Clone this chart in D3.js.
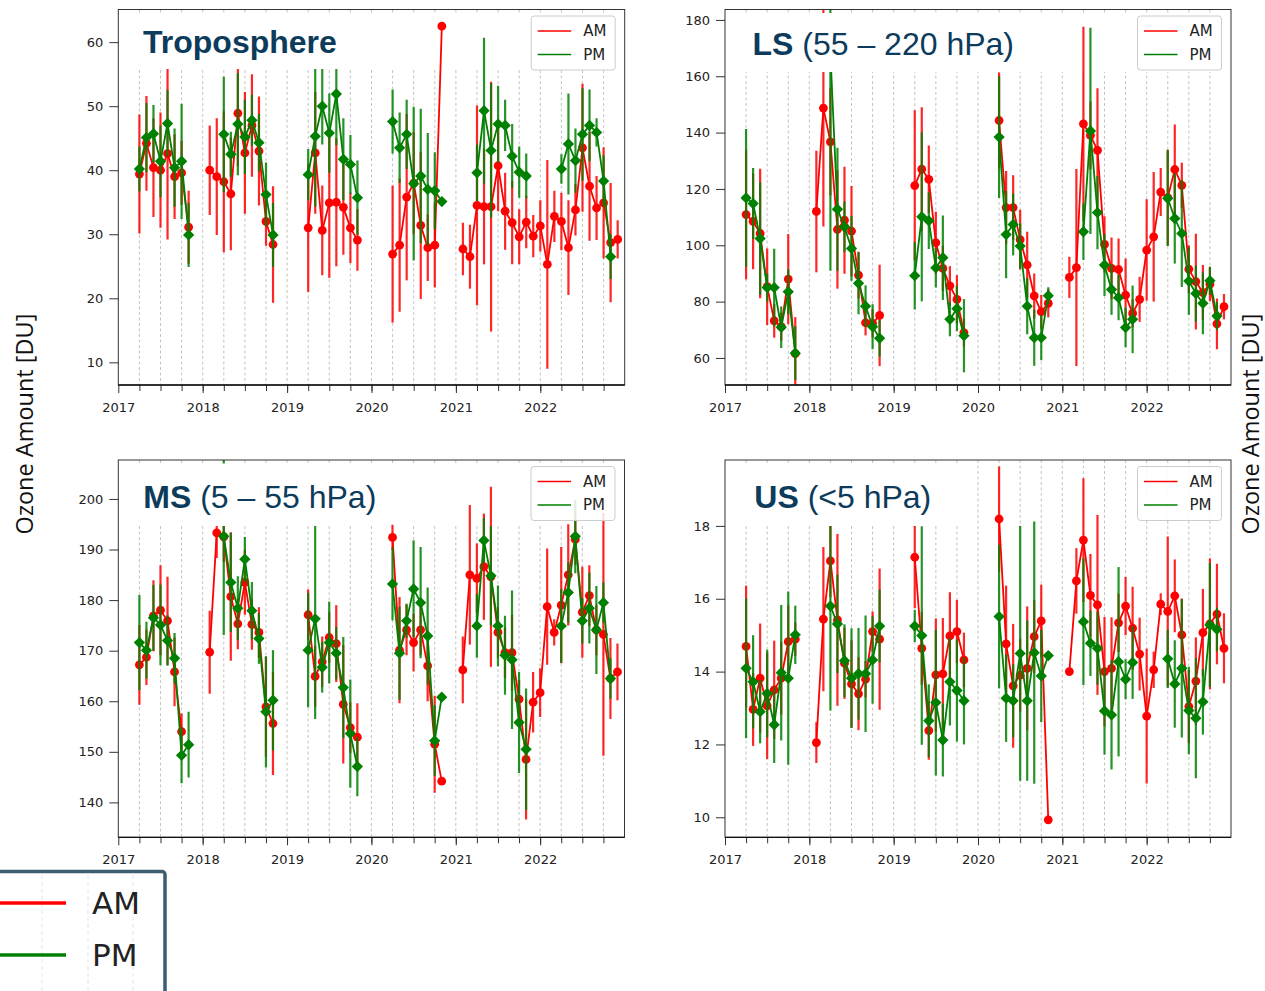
<!DOCTYPE html>
<html>
<head>
<meta charset="utf-8">
<script src="https://cdn.jsdelivr.net/npm/d3@7"></script>
<style>
  body { margin: 0; background: #fff; }
  svg { display: block; font-family: "DejaVu Sans", sans-serif; }
</style>
</head>
<body>
<svg id="rootSVG" width="1265" height="991"></svg>
<script>
const N = null;

// time axis: one slot per month, Jan 2017 .. Dec 2022
const years = [2017, 2018, 2019, 2020, 2021, 2022];
const seriesNames = ['AM', 'PM'];

const tropoTicks = [10, 20, 30, 40, 50, 60];
const lsTicks = [60, 80, 100, 120, 140, 160, 180];
const msTicks = [140, 150, 160, 170, 180, 190, 200];
const usTicks = [10, 12, 14, 16, 18];

// Troposphere
const tropoAM = [
  N, N, N, 39.4, 44.2, 40.4, 40.0, 42.6, 39.0, 39.6, 31.1, N,
  N, 40.0, 39.0, 38.2, 36.3, 48.9, 42.7, 47.0, 43.0, 32.0, 28.4, N,
  N, N, N, 31.0, 42.7, 30.6, 34.9, 35.0, 34.2, 31.0, 29.1, N,
  N, N, N, 26.9, 28.3, 35.8, 38.0, 31.4, 27.9, 28.3, 62.5, N,
  N, 27.7, 26.5, 34.5, 34.3, 34.3, 40.7, 33.6, 31.8, 29.6, 31.9, 29.7,
  31.3, 25.3, 32.8, 32.0, 27.9, 33.8, 43.5, 37.5, 34.1, 34.9, 28.7, 29.2
];
const tropoAMErr = [
  N, N, N, 9.3, 7.4, 7.7, 9.0, 13.4, 6.6, 5.0, 5.7, N,
  N, 7.0, 9.1, 11.0, 8.8, 8.3, 9.5, 8.0, 8.5, 3.8, 9.1, N,
  N, N, N, 10, 9.5, 7, 11.7, 10, 7.4, 5.5, 4.8, N,
  N, N, N, 10.7, 10.4, 13, 8, 11.5, 5.2, 6.6, 0, N,
  N, 4.1, 5, 15.6, 9, 19.5, 7.1, 6, 6.5, 4.3, 4.1, 3.3,
  4, 16.3, 4, 4.5, 7.4, 4, 10, 8.5, 5, 8.7, 9.3, 3
];
const tropoPM = [
  N, N, N, 40.2, 45.1, 45.7, 41.4, 47.3, 40.4, 41.4, 29.9, N,
  N, N, N, 45.6, 42.5, 47.2, 45.2, 47.8, 44.3, 36.2, 29.9, N,
  N, N, N, 39.3, 45.3, 50.0, 45.8, 51.9, 41.7, 40.9, 35.7, N,
  N, N, N, 47.6, 43.5, 45.6, 37.9, 39.1, 37.0, 36.8, 35.1, N,
  N, N, N, 39.6, 49.3, 43.1, 47.2, 47.0, 42.2, 39.7, 39.1, N,
  N, N, N, 40.2, 44.1, 41.5, 45.6, 47.0, 45.9, 38.3, 26.5, N
];
const tropoPMErr = [
  N, N, N, 3.5, 5.4, 4.5, 5.6, 5.2, 6.1, 9, 5, N,
  N, N, N, 9, 3.5, 8, 5.8, 4, 4.5, 5, 5, N,
  N, N, N, 4, 11, 6, 6.2, 8, 6.4, 4.6, 5.8, N,
  N, N, N, 5, 5.5, 5.4, 12, 10.5, 8.8, 6, 0, N,
  N, N, N, 4.4, 11.4, 10.5, 6, 4, 5, 4, 3.5, N,
  N, N, N, 2.3, 7.9, 5, 7.2, 5.6, 2.2, 4, 3.5, N
];

// Lower stratosphere
const lsAM = [
  N, N, N, 110.9, 108.5, 104.2, 85.3, 73.2, 71.1, 88.0, 61.5, N,
  N, 112.0, 148.7, 136.7, 105.6, 108.9, 105.0, 89.4, 72.5, 72.3, 75.1, N,
  N, N, N, 121.2, 127.0, 123.4, 100.9, 91.8, 85.6, 80.8, 69.0, N,
  N, N, N, 144.3, 113.4, 113.4, 102.0, 93.0, 82.0, 76.4, 79.4, N,
  N, 88.6, 92.1, 143.1, 139.0, 133.7, 100.3, 91.8, 91.4, 82.3, 75.8, 80.8,
  98.3, 103.0, 118.9, 116.9, 126.9, 121.3, 91.5, 87.1, 83.2, 86.2, 72.1, 78.2
];
const lsAMErr = [
  N, N, N, 23, 17, 23, 13.6, 6, 5, 16, 13, N,
  N, 21.6, 42, 19, 21, 19, 16, 8.3, 4.5, 5, 18, N,
  N, N, N, 26.7, 22, 12, 11, 8, 7, 8.6, 5, N,
  N, N, N, 17, 13, 11.5, 10.6, 11.8, 8, 6, 5, N,
  N, 7.3, 35, 34.5, 12, 22, 10, 11, 11, 13, 5, 8,
  18, 23, 8.5, 17, 16, 8, 8.5, 17, 9.8, 6, 9, 4.5
];
const lsPM = [
  N, N, N, 116.8, 114.8, 102.4, 85.0, 85.0, 70.9, 83.5, 61.7, N,
  N, N, N, 168, 112.8, 106.5, 98.9, 86.5, 78.4, 71.1, 67.0, N,
  N, N, N, 89.2, 110.1, 108.7, 92.0, 95.6, 73.7, 77.5, 67.9, N,
  N, N, N, 138.4, 103.8, 107.4, 99.7, 78.4, 67.2, 67.2, 82.1, N,
  N, N, N, 104.8, 140.6, 111.6, 93.0, 84.3, 81.4, 70.8, 73.7, N,
  N, N, N, 116.7, 109.5, 104.2, 87.3, 82.9, 79.4, 87.4, 74.9, N
];
const lsPMErr = [
  N, N, N, 24.5, 12.6, 20, 5, 13.8, 7.4, 8, 9.5, N,
  N, N, N, 77, 21.8, 9, 11.5, 11, 7.4, 8, 6.5, N,
  N, N, N, 12, 30, 10, 7, 15, 6, 8, 13, N,
  N, N, N, 21.6, 15.5, 11, 8, 10, 10, 8, 3, N,
  N, N, N, 10, 36.6, 13, 11, 9, 8, 7, 12, N,
  N, N, N, 17, 16, 19, 12, 10, 11, 5, 5, N
];

// Middle stratosphere
const msAM = [
  N, N, N, 167.2, 168.7, 176.9, 178.0, 175.9, 165.8, 154.0, N, N,
  N, 169.7, 193.3, 192.5, 180.7, 175.3, 183.5, 175.2, 173.6, 158.9, 155.6, N,
  N, N, N, 177.1, 164.9, 167.8, 172.6, 171.4, 159.4, 154.8, 152.9, N,
  N, N, N, 192.4, 170.1, 174.1, 171.6, 174.1, 167.0, 151.5, 144.2, N,
  N, 166.2, 185.0, 184.3, 186.6, 184.6, 173.6, 169.6, 169.6, 160.4, 148.5, 159.8,
  161.7, 178.7, 173.6, 179.0, 185.0, 192.0, 177.6, 180.9, 174.1, 173.2, 164.5, 165.8
];
const msAMErr = [
  N, N, N, 7.9, 5.5, 7, 8.9, 8.7, 6.8, 3.6, N, N,
  N, 8.2, 5, 5, 12.7, 5, 6.4, 5, 5, 9.9, 10.2, N,
  N, N, N, 5, 6, 5, 5, 7.6, 11.7, 5, 6.7, N,
  N, N, N, 2.5, 10.5, 5, 5.7, 5, 7, 9.6, 0, N,
  N, 6.6, 13.8, 6.9, 10.5, 17.8, 5, 5, 7.5, 3.8, 11.9, 6,
  4.8, 11.5, 2.6, 11.5, 10, 5, 9, 6, 5, 24, 8, 5.6
];
const msPM = [
  N, N, N, 171.6, 170.1, 176.5, 175.1, 172.0, 168.5, 149.3, 151.4, N,
  N, N, N, 192.6, 183.5, 178.4, 188.1, 177.9, 172.4, 157.9, 160.2, N,
  N, N, N, 170.1, 176.3, 166.7, 171.6, 169.5, 162.7, 153.6, 147.1, N,
  N, N, N, 183.2, 169.5, 175.9, 182.2, 179.5, 172.9, 152.2, 160.8, N,
  N, N, N, 174.9, 191.8, 184.8, 174.9, 169.1, 168.2, 155.8, 150.5, N,
  N, N, N, 174.9, 181.5, 192.6, 175.9, 178.4, 174.1, 179.5, 164.5, N
];
const msPMErr = [
  N, N, N, 9.4, 5.6, 6.5, 8, 5, 5, 5.5, 6.5, N,
  N, N, N, 19.5, 9.8, 6.3, 4.4, 5.7, 5, 11, 9.9, N,
  N, N, N, 11.3, 19.8, 5, 8.1, 5.2, 10, 10.7, 5.9, N,
  N, N, N, 7.2, 9.2, 3.4, 9.6, 11, 9.6, 7, 0, N,
  N, N, N, 6.3, 4.4, 9.8, 8, 7.8, 13.7, 10, 12, N,
  N, N, N, 7.3, 6, 7.3, 4.5, 7, 8.7, 4, 4, N
];

// Upper stratosphere
const usAM = [
  N, N, N, 14.69, 12.96, 13.82, 13.06, 13.50, 13.82, 14.82, 14.89, N,
  N, 12.05, 15.44, 17.04, 15.42, 14.23, 13.66, 13.39, 13.79, 15.10, 14.89, N,
  N, N, N, 17.14, 14.64, 12.38, 13.91, 13.94, 14.98, 15.10, 14.32, N,
  N, N, N, 18.19, 14.76, 13.61, 13.90, 14.09, 14.96, 15.39, 9.93, N,
  N, 14.00, 16.49, 17.61, 16.09, 15.83, 14.00, 14.09, 15.34, 15.80, 15.19, 14.48,
  12.78, 14.05, 15.85, 15.65, 16.08, 15.01, 13.04, 13.74, 15.07, 15.31, 15.58, 14.64
];
const usAMErr = [
  N, N, N, 1.67, 1.0, 1.5, 1.46, 1.35, 1.0, 1.0, 0.46, N,
  N, 0.56, 1.98, 1.0, 2.36, 0.98, 1.2, 1.0, 0.5, 0.55, 1.94, N,
  N, N, N, 1.4, 1.0, 0.8, 1.55, 1.53, 1.2, 0.87, 0.75, N,
  N, N, N, 1.44, 1.6, 1.7, 1.0, 1.7, 1.0, 1.0, 0, N,
  N, 0, 0.9, 1.7, 1.14, 2.47, 1.5, 1.4, 0.8, 0.8, 1.14, 1.0,
  1.85, 0.5, 0.3, 2.06, 1.0, 1.0, 1.0, 1.2, 1.2, 1.8, 1.38, 0.96
];
const usPM = [
  N, N, N, 14.09, 13.72, 12.90, 13.40, 12.54, 13.97, 13.82, 15.01, N,
  N, N, N, 15.80, 15.31, 14.30, 13.82, 13.94, 13.94, 14.32, 15.25, N,
  N, N, N, 15.25, 14.99, 12.65, 13.15, 12.12, 13.72, 13.48, 13.20, N,
  N, N, N, 15.51, 13.27, 13.20, 14.50, 13.20, 14.52, 13.88, 14.44, N,
  N, N, N, 15.37, 14.78, 14.64, 12.92, 12.81, 14.27, 13.79, 14.25, N,
  N, N, N, 14.35, 13.66, 14.09, 12.93, 12.72, 13.17, 15.28, 15.16, N
];
const usPMErr = [
  N, N, N, 1.92, 1.28, 0.87, 1.2, 1.05, 1.86, 2.38, 0.8, N,
  N, N, N, 2.87, 1.35, 1.0, 1.37, 1.26, 1.6, 1.2, 1.0, N,
  N, N, N, 0.44, 3.0, 1.0, 2.0, 1.0, 1.2, 1.4, 1.2, N,
  N, N, N, 1.97, 1.2, 1.0, 3.5, 2.2, 3.6, 1.27, 0, N,
  N, N, N, 1.74, 0.9, 1.0, 1.2, 1.5, 2.6, 0.55, 1.0, N,
  N, N, N, 0.8, 1.2, 1.9, 1.2, 1.65, 0.9, 1.7, 0.6, N
];

const RED = '#ff0000';
const GREEN = '#008000';
const NAVY = '#0c3b5b';

const panels = [
  {bold: 'Troposphere', rest: '', am: tropoAM, amErr: tropoAMErr, pm: tropoPM, pmErr: tropoPMErr,
   yDomain: [6.46, 65.1], yTicks: tropoTicks,
   left: 118.3, right: 624.7, top: 9.5, bottom: 385, gridTop: 69, bandRight: 624.7,
   titleBox: [120, 345], titleX: 143, titleY: 53},
  {bold: 'LS', rest: ' (55 – 220 hPa)', am: lsAM, amErr: lsAMErr, pm: lsPM, pmErr: lsPMErr,
   yDomain: [50.4, 183.7], yTicks: lsTicks,
   left: 725, right: 1231, top: 9.5, bottom: 385, gridTop: 72, bandRight: 1231,
   titleBox: [727, 1040], titleX: 752.5, titleY: 55},
  {bold: 'MS', rest: ' (5 – 55 hPa)', am: msAM, amErr: msAMErr, pm: msPM, pmErr: msPMErr,
   yDomain: [133.1, 207.7], yTicks: msTicks,
   left: 118.3, right: 624.5, top: 460, bottom: 837.3, gridTop: 526, bandRight: 624.5,
   titleBox: [120, 390], titleX: 143.3, titleY: 508},
  {bold: 'US', rest: ' (<5 hPa)', am: usAM, amErr: usAMErr, pm: usPM, pmErr: usPMErr,
   yDomain: [9.45, 19.81], yTicks: usTicks,
   left: 725, right: 1231, top: 460, bottom: 837.3, gridTop: 526, bandRight: 975,
   titleBox: [727, 945], titleX: 754.3, titleY: 508}
];

const svg = d3.select('#rootSVG');
const defs = svg.append('defs');
const quarters = years.flatMap(yr => [yr, yr + 0.25, yr + 0.5, yr + 0.75]).filter(q => q > 2017);

function toPoints(vals, errs) {
  return vals.map((v, i) => ({t: 2017 + i / 12, v: v, e: errs[i]}));
}

function drawSeries(g, pts, x, y, color, marker) {
  // error bars first, then connecting line, then markers
  g.append('g').selectAll('line')
    .data(pts.filter(d => d.v != null && d.e > 0))
    .enter().append('line')
    .attr('x1', d => x(d.t)).attr('x2', d => x(d.t))
    .attr('y1', d => y(d.v - d.e)).attr('y2', d => y(d.v + d.e))
    .attr('stroke', color).attr('stroke-width', 2.2).attr('stroke-opacity', 0.85);

  const line = d3.line()
    .defined(d => d.v != null)
    .x(d => x(d.t))
    .y(d => y(d.v));
  g.append('path').datum(pts)
    .attr('d', line)
    .attr('fill', 'none').attr('stroke', color).attr('stroke-width', 1.8);

  const valid = pts.filter(d => d.v != null);
  if (marker === 'circle') {
    g.append('g').selectAll('circle').data(valid).enter().append('circle')
      .attr('cx', d => x(d.t)).attr('cy', d => y(d.v)).attr('r', 4.4)
      .attr('fill', color);
  } else {
    const diamond = d3.symbol().type(d3.symbolSquare).size(64);
    g.append('g').selectAll('path').data(valid).enter().append('path')
      .attr('d', diamond)
      .attr('transform', d => `translate(${x(d.t)},${y(d.v)}) rotate(45)`)
      .attr('fill', color);
  }
}

panels.forEach((p, i) => {
  const x = d3.scaleLinear().domain([2017, 2023]).range([p.left, p.right]);
  const y = d3.scaleLinear().domain(p.yDomain).range([p.bottom, p.top]);
  const g = svg.append('g');

  defs.append('clipPath').attr('id', 'clip' + i)
    .append('rect')
    .attr('x', p.left).attr('y', p.top)
    .attr('width', p.right - p.left).attr('height', p.bottom - p.top);

  // quarterly dashed grid
  g.append('g').selectAll('line').data(quarters).enter().append('line')
    .attr('x1', d => x(d)).attr('x2', d => x(d))
    .attr('y1', p.top).attr('y2', p.bottom)
    .attr('stroke', '#b5b5b5').attr('stroke-width', 0.8)
    .attr('stroke-dasharray', '3,2.5');

  // white strip under the title row
  g.append('rect')
    .attr('x', p.left + 1).attr('y', p.top + 3.5)
    .attr('width', p.bandRight - p.left - 2).attr('height', p.gridTop - p.top - 3.5)
    .attr('fill', '#fff');

  const plot = g.append('g').attr('clip-path', `url(#clip${i})`);
  drawSeries(plot, toPoints(p.am, p.amErr), x, y, RED, 'circle');
  drawSeries(plot, toPoints(p.pm, p.pmErr), x, y, GREEN, 'diamond');

  // title
  g.append('rect')
    .attr('x', p.titleBox[0]).attr('y', p.top + 3.5)
    .attr('width', p.titleBox[1] - p.titleBox[0]).attr('height', p.gridTop - p.top - 3.5)
    .attr('fill', '#fff');
  const title = g.append('text')
    .attr('x', p.titleX).attr('y', p.titleY)
    .attr('font-family', '"Liberation Sans", Arial, sans-serif')
    .attr('font-size', 32).attr('fill', NAVY);
  title.append('tspan').attr('font-weight', 'bold').text(p.bold);
  if (p.rest) title.append('tspan').attr('xml:space', 'preserve').text(p.rest);

  // legend
  const lg = g.append('g').attr('transform', `translate(${p.right - 93.5},${p.top + 6.5})`);
  lg.append('rect').attr('width', 84).attr('height', 54).attr('rx', 3)
    .attr('fill', '#fff').attr('fill-opacity', 0.85)
    .attr('stroke', '#cccccc').attr('stroke-width', 1);
  seriesNames.forEach((name, k) => {
    const ly = 15 + k * 23.5;
    lg.append('line').attr('x1', 6.5).attr('x2', 40).attr('y1', ly).attr('y2', ly)
      .attr('stroke', k === 0 ? RED : GREEN).attr('stroke-width', 1.6);
    lg.append('text').attr('x', 52).attr('y', ly).attr('dy', '0.36em')
      .attr('font-size', 15).attr('fill', '#222').text(name);
  });

  // axes
  const yAxis = d3.axisLeft(y).tickValues(p.yTicks).tickSize(9).tickPadding(6).tickSizeOuter(0);
  const ya = g.append('g').attr('transform', `translate(${p.left},0)`).call(yAxis);
  const xMinor = d3.axisBottom(x).tickValues(quarters).tickSize(6).tickFormat('').tickSizeOuter(0);
  const xm = g.append('g').attr('transform', `translate(0,${p.bottom})`).call(xMinor);
  const xAxis = d3.axisBottom(x).tickValues(years).tickFormat(d3.format('d'))
    .tickSize(8).tickPadding(9.5).tickSizeOuter(0);
  const xa = g.append('g').attr('transform', `translate(0,${p.bottom})`).call(xAxis);

  [ya, xm, xa].forEach(a => {
    a.select('.domain').remove();
    a.selectAll('.tick line').attr('stroke', '#333').attr('stroke-width', 1);
    a.selectAll('.tick text').attr('font-family', '"DejaVu Sans", sans-serif')
      .attr('font-size', 13).attr('fill', '#222');
  });

  // frame
  g.append('rect')
    .attr('x', p.left).attr('y', p.top)
    .attr('width', p.right - p.left).attr('height', p.bottom - p.top)
    .attr('fill', 'none').attr('stroke', '#333').attr('stroke-width', 1);
  g.append('line').attr('x1', p.left).attr('x2', p.right)
    .attr('y1', p.bottom).attr('y2', p.bottom)
    .attr('stroke', '#111').attr('stroke-width', 1.3);
});

// shared y labels
[24, 1250].forEach(cx => {
  svg.append('text')
    .attr('transform', `translate(${cx},424) rotate(-90)`)
    .attr('text-anchor', 'middle').attr('dominant-baseline', 'central')
    .attr('font-family', '"Open Sans", sans-serif').attr('font-size', 23.5)
    .attr('fill', '#111')
    .text('Ozone Amount [DU]');
});

// enlarged legend in the corner
const big = svg.append('g');
big.append('rect').attr('x', -6).attr('y', 871.5).attr('width', 171).attr('height', 130)
  .attr('rx', 3).attr('fill', '#fff').attr('stroke', '#3d5d70').attr('stroke-width', 3.5);
[42, 88, 133].forEach(gx => {
  big.append('line').attr('x1', gx).attr('x2', gx).attr('y1', 875).attr('y2', 991)
    .attr('stroke', '#e4e4e4').attr('stroke-width', 1).attr('stroke-dasharray', '4,3');
});
seriesNames.forEach((name, k) => {
  const ly = 903 + k * 52;
  big.append('line').attr('x1', 0).attr('x2', 66).attr('y1', ly).attr('y2', ly)
    .attr('stroke', k === 0 ? RED : GREEN).attr('stroke-width', 3.5);
  big.append('text').attr('x', 92).attr('y', ly).attr('dy', '0.36em')
    .attr('font-size', 31).attr('fill', '#222').text(name);
});
</script>
</body>
</html>
